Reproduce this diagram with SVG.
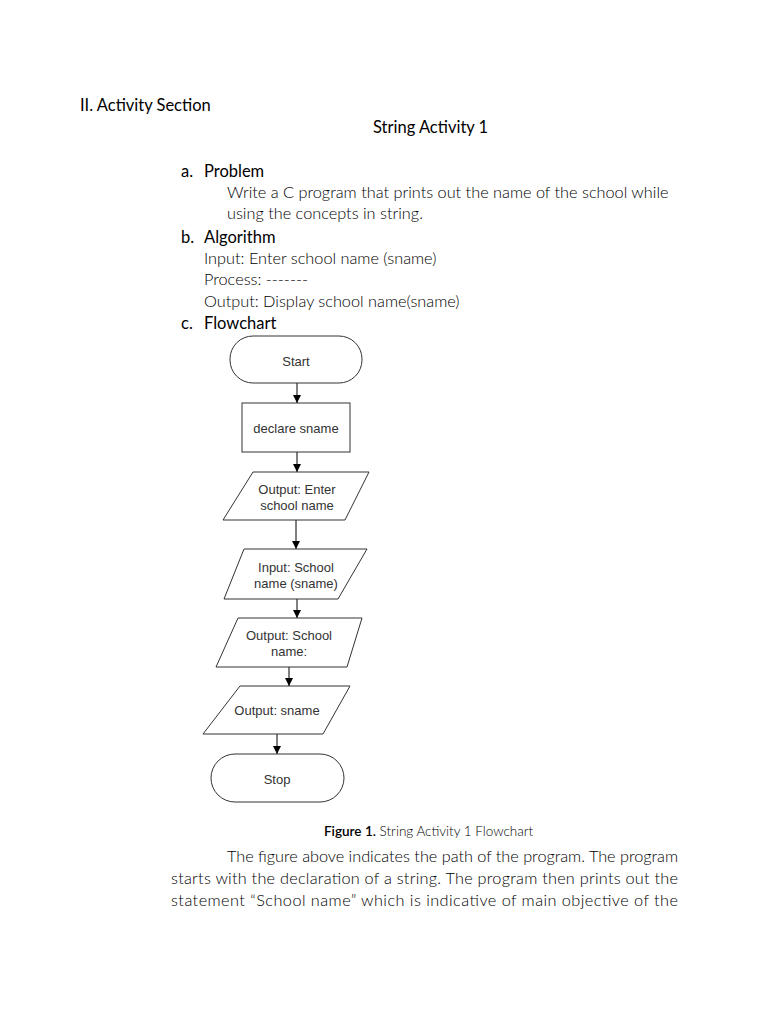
<svg xmlns="http://www.w3.org/2000/svg" width="768" height="1024" viewBox="0 0 768 1024">
<defs>
<style>
.h{font-family:Lato,"Liberation Sans",sans-serif;font-size:16.5px;fill:#000}
.b{font-family:Lato,"Liberation Sans",sans-serif;font-size:16.3px;fill:#000;font-weight:300}
.cap{font-family:Lato,"Liberation Sans",sans-serif;font-size:13.5px;fill:#000;font-weight:300}
.s{fill:#fff;stroke:#333;stroke-width:1}
.t{font-family:"Liberation Sans",Arial,sans-serif;font-size:13px;fill:#333;text-anchor:middle}
.c{stroke:#000;stroke-width:1;fill:none;marker-end:url(#ah)}
</style>
<marker id="ah" viewBox="0 0 10 10" refX="10" refY="5" markerWidth="8" markerHeight="8" markerUnits="userSpaceOnUse" orient="auto">
<path d="M0,0 L10,5 L0,10 z" fill="#000"/>
</marker>
</defs>
<rect width="768" height="1024" fill="#fff"/>

<text class="h" x="80" y="111">II. Activity Section</text>
<text class="h" x="373" y="133">String Activity 1</text>
<text class="h" x="181" y="177">a.</text>
<text class="h" x="204" y="177">Problem</text>
<text class="b" x="227" y="198">Write a C program that prints out the name of the school while</text>
<text class="b" x="227" y="219">using the concepts in string.</text>
<text class="h" x="181" y="243">b.</text>
<text class="h" x="204" y="243">Algorithm</text>
<text class="b" x="204" y="264">Input: Enter school name (sname)</text>
<text class="b" x="204" y="285">Process: -------</text>
<text class="b" x="204" y="307">Output: Display school name(sname)</text>
<text class="h" x="181" y="329">c.</text>
<text class="h" x="204" y="329">Flowchart</text>

<g id="connectors">
<line class="c" x1="297" y1="383" x2="297" y2="403"/>
<line class="c" x1="297" y1="452" x2="297" y2="472"/>
<line class="c" x1="296" y1="520" x2="296" y2="549"/>
<line class="c" x1="297" y1="599" x2="297" y2="618"/>
<line class="c" x1="289" y1="667" x2="289" y2="686"/>
<line class="c" x1="277" y1="734" x2="277" y2="754"/>
</g>

<g id="start">
<rect class="s" x="230" y="336" width="132" height="47" rx="23" ry="23"/>
<text class="t" x="296" y="366">Start</text>
</g>
<g id="declare">
<rect class="s" x="242" y="403" width="108" height="49"/>
<text class="t" x="296" y="433">declare sname</text>
</g>
<g id="out1">
<polygon class="s" points="253,472 369,472 345,520 223,520"/>
<text class="t" x="297" y="494">Output: Enter</text>
<text class="t" x="297" y="510">school name</text>
</g>
<g id="in1">
<polygon class="s" points="244,549 367,549 338,599 224,599"/>
<text class="t" x="296" y="572">Input: School</text>
<text class="t" x="296" y="588">name (sname)</text>
</g>
<g id="out2">
<polygon class="s" points="238,618 362,618 347,667 216,667"/>
<text class="t" x="289" y="640">Output: School</text>
<text class="t" x="289" y="656">name:</text>
</g>
<g id="out3">
<polygon class="s" points="240,686 350,686 323,734 203,734"/>
<text class="t" x="277" y="715">Output: sname</text>
</g>
<g id="stop">
<rect class="s" x="211" y="754" width="133" height="48" rx="24" ry="24"/>
<text class="t" x="277" y="784">Stop</text>
</g>

<text class="cap" x="324" y="836"><tspan font-weight="600">Figure 1.</tspan> String Activity 1 Flowchart</text>
<text class="b" x="227" y="862" textLength="451" lengthAdjust="spacing">The figure above indicates the path of the program. The program</text>
<text class="b" x="171" y="884" textLength="507" lengthAdjust="spacing">starts with the declaration of a string. The program then prints out the</text>
<text class="b" x="171" y="906" textLength="507" lengthAdjust="spacing">statement “School name” which is indicative of main objective of the</text>
</svg>
